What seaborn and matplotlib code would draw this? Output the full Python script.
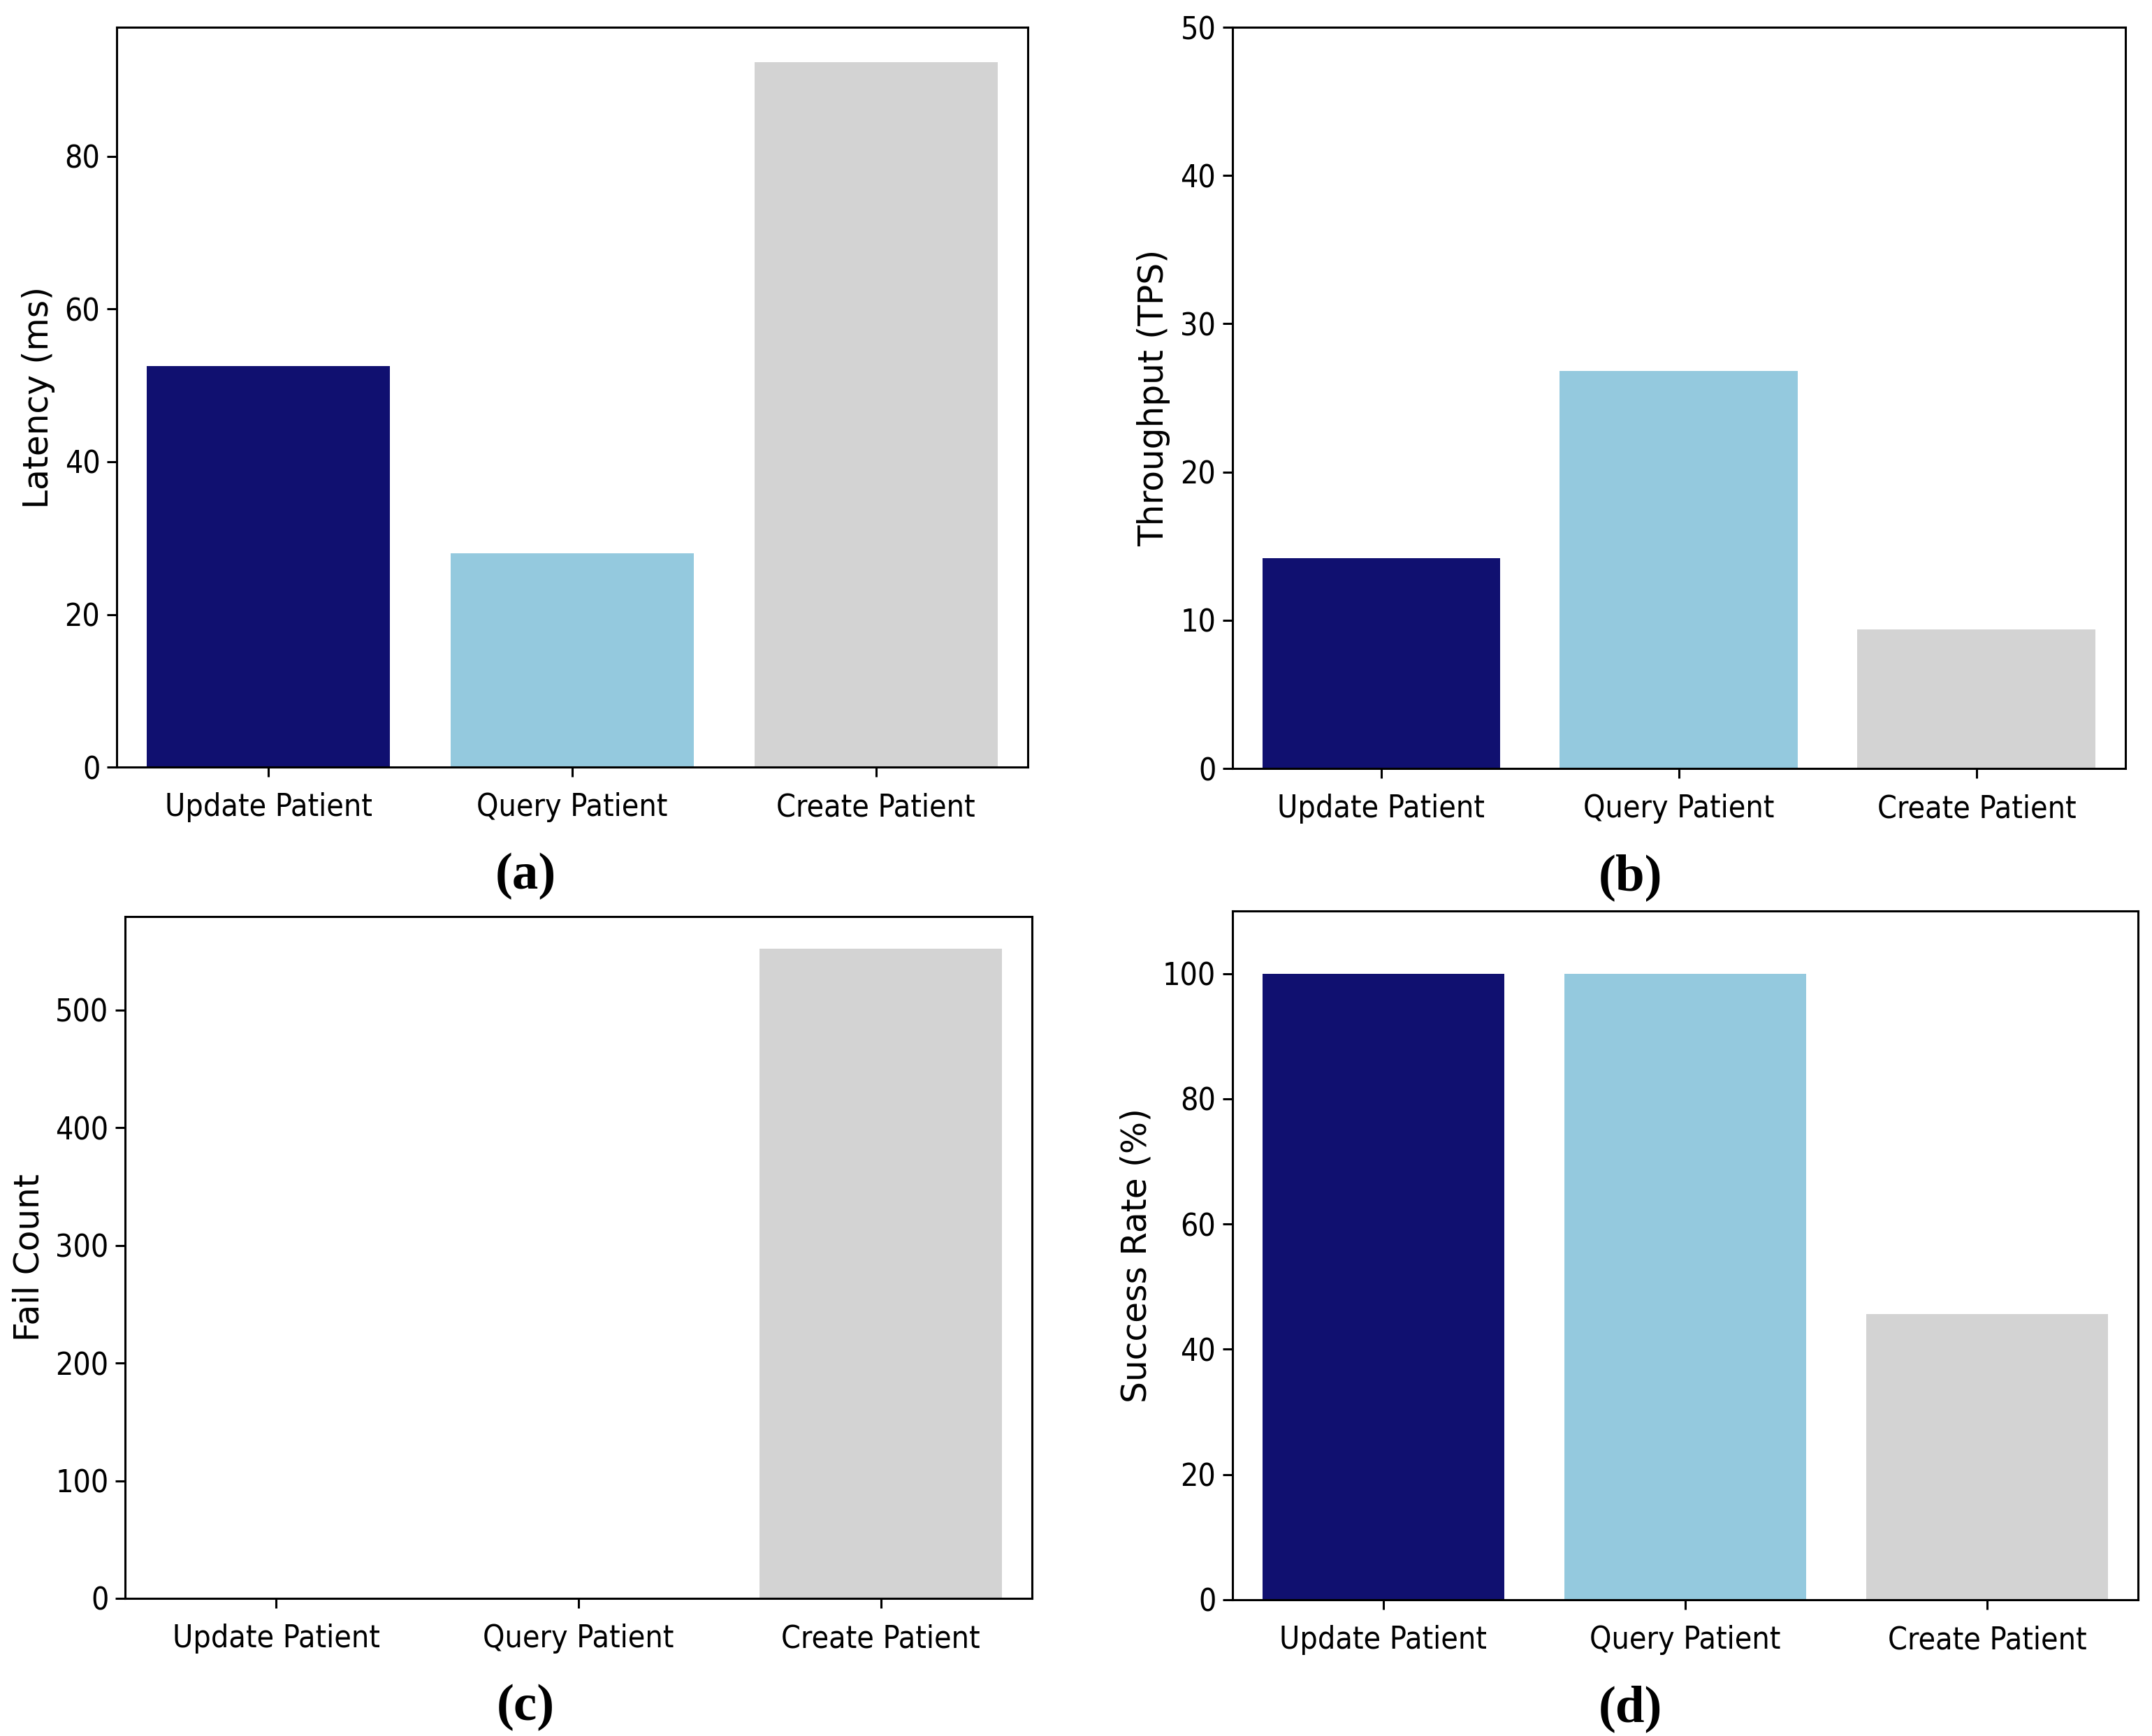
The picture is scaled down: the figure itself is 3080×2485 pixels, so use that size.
import matplotlib
matplotlib.use("Agg")
import matplotlib.pyplot as plt
import seaborn as sns

operations = ["Update Patient", "Query Patient", "Create Patient"]
latency_ms = [52.5, 28.0, 92.3]
throughput_tps = [14.2, 26.8, 9.4]
fail_count = [0, 0, 552]
success_rate = [100, 100, 45.6]
bar_colors = ["navy", "skyblue", "lightgray"]

panels = [
    ("(a)", latency_ms, "Latency (ms)", None, [0.0542, 0.5581, 0.4234, 0.4262]),
    ("(b)", throughput_tps, "Throughput (TPS)", (0, 50), [0.5727, 0.5573, 0.4149, 0.4270]),
    ("(c)", fail_count, "Fail Count", None, [0.0581, 0.0793, 0.4214, 0.3928]),
    ("(d)", success_rate, "Success Rate (%)", (0, 110), [0.5727, 0.0785, 0.4208, 0.3968]),
]

fig = plt.figure(figsize=(15.4, 12.425), dpi=200)

for tag, values, ylabel, ylim, rect in panels:
    ax = fig.add_axes(rect)
    sns.barplot(x=operations, y=values, hue=operations, palette=bar_colors,
                legend=False, ax=ax)
    if ylim is None:
        ax.set_ylim(0, max(values) * 1.05)
    else:
        ax.set_ylim(*ylim)
    ax.set_xlim(-0.5, 2.5)
    ax.set_ylabel(ylabel, fontsize=17.5, family="DejaVu Sans", labelpad=5)
    ax.set_xlabel("")
    ax.tick_params(axis="both", length=5, width=1.1, labelsize=16)
    ax.tick_params(axis="x", pad=8)
    for lab in ax.get_xticklabels() + ax.get_yticklabels():
        lab.set_family("DejaVu Sans")
        lab.set_fontstretch("condensed")
    for sp in ax.spines.values():
        sp.set_linewidth(1.1)
        sp.set_color("black")
    x0, y0, w, h = rect
    fig.text(0.2442 if tag in ("(a)", "(c)") else 0.7575, y0 - 0.063,
             tag, ha="center", va="center", fontsize=27,
             family="Liberation Serif", fontweight="bold")

fig.savefig("out.png", dpi=200, facecolor="white")
